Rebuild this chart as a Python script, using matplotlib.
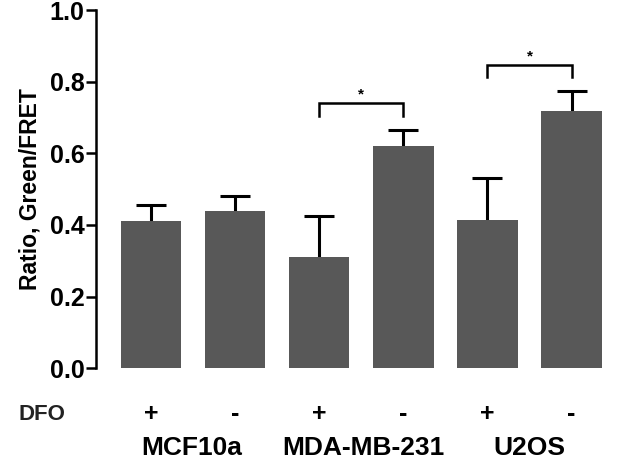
import numpy as np
import matplotlib.pyplot as plt
import matplotlib.transforms as mtransforms

plt.rcParams['font.family'] = ['Liberation Sans', 'DejaVu Sans']
plt.rcParams['font.weight'] = 'bold'

# data
means = [0.41, 0.44, 0.31, 0.62, 0.415, 0.718]
upper_err = [0.045, 0.04, 0.115, 0.045, 0.115, 0.057]
dfo_labels = ['+', '-', '+', '-', '+', '-']
groups = ['MCF10a', 'MDA-MB-231', 'U2OS']
group_pos = [0.49, 2.52, 4.5]
# significance brackets: (left bar, right bar, height, drop)
brackets = [(2, 3, 0.74, 0.035), (4, 5, 0.846, 0.032)]
yticks = [0.0, 0.2, 0.4, 0.6, 0.8, 1.0]

fig = plt.figure(figsize=(6.3, 4.66), dpi=100)
ax = fig.add_axes([0.152, 0.21, 0.822, 0.768])

x = np.arange(len(means))
ax.bar(x, means, width=0.72, color='#585858', zorder=2)
# symmetric bars drawn behind the columns, so only the upper half shows
ax.errorbar(x, means, yerr=upper_err, fmt='none',
            ecolor='black', elinewidth=2.2, capsize=11, capthick=2.2, zorder=1)

for a, b, h, d in brackets:
    ax.plot([a, a, b, b], [h - d, h, h, h - d], color='black', lw=1.8,
            solid_joinstyle='miter')
    ax.text((a + b) / 2, h + 0.005, '*', ha='center', va='bottom', fontsize=11)

ax.set_xlim(-0.655, 5.5)
ax.set_ylim(0, 1.0)
ax.set_yticks(yticks)
ax.set_yticklabels(['%.1f' % t for t in yticks], fontsize=18, fontweight='bold')
ax.set_xticks([])
ax.set_ylabel('Ratio, Green/FRET', fontsize=16.5, fontweight='bold', labelpad=6)

for s in ['top', 'right', 'bottom']:
    ax.spines[s].set_visible(False)
ax.spines['left'].set_linewidth(1.8)
ax.tick_params(axis='y', direction='out', length=7, width=1.8, pad=1)

trans = mtransforms.blended_transform_factory(ax.transData, ax.transAxes)
for xi, lab in zip(x, dfo_labels):
    ax.text(xi, -0.128, lab, transform=trans, ha='center', va='center',
            fontsize=18, fontweight='bold')
for gp, g in zip(group_pos, groups):
    ax.text(gp, -0.224, g, transform=trans, ha='center', va='center',
            fontsize=19, fontweight='bold')
fig.text(0.066, 1 - 414 / 466, 'DFO', ha='center', va='center',
         fontsize=16, fontweight='bold', color='#222222')

fig.savefig('out.png', dpi=100)
